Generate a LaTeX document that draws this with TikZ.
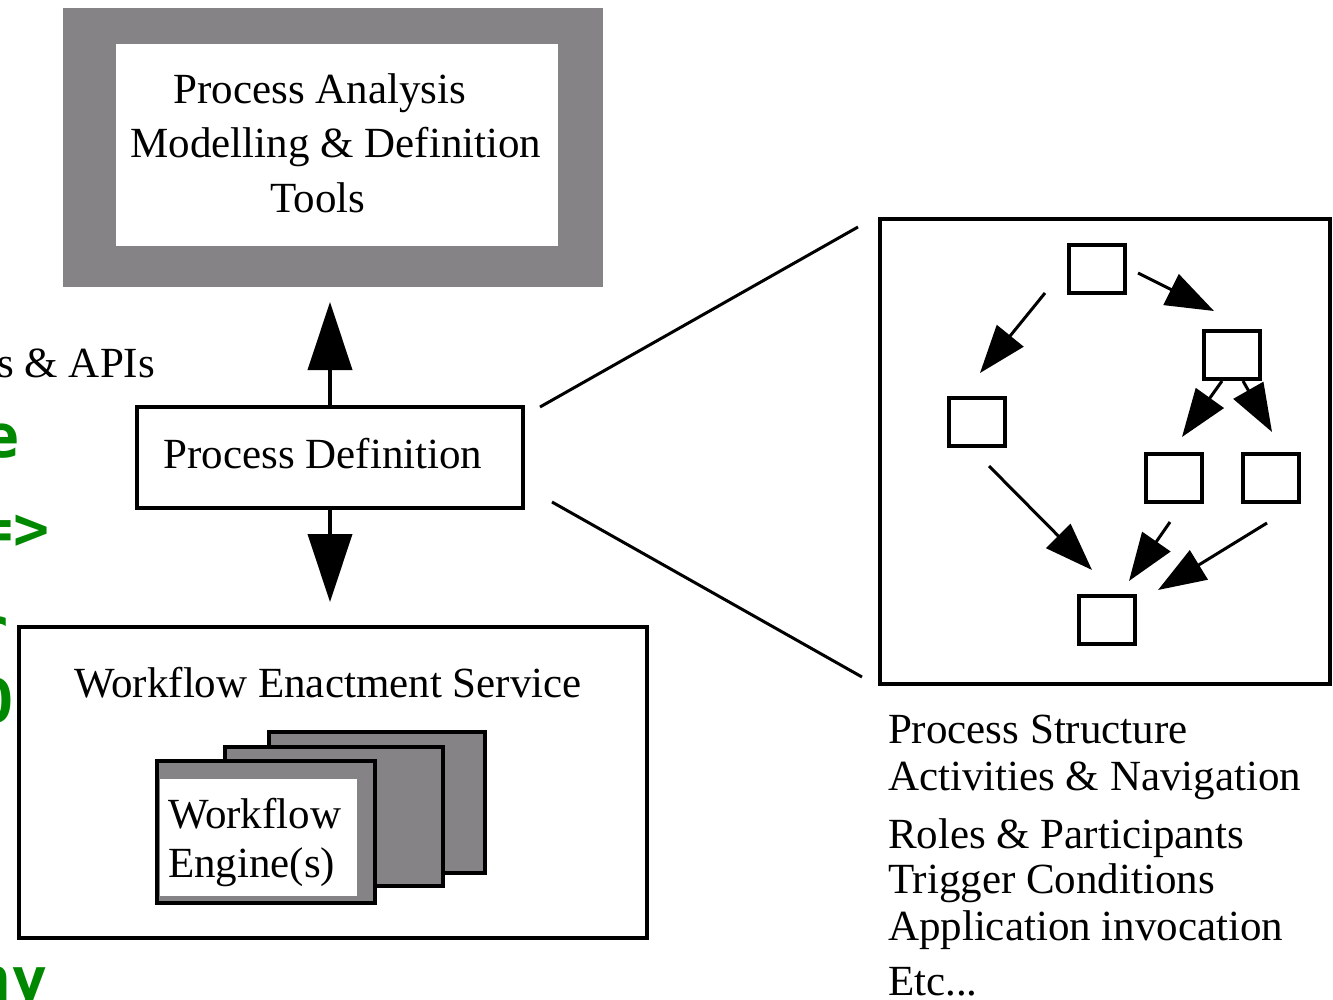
\documentclass[tikz,border=0pt]{standalone}
\usepackage{fontspec}
\setmainfont{Liberation Serif}
\newfontfamily\greenmono{DejaVu Sans Mono Bold}
\usetikzlibrary{arrows.meta}
\definecolor{boxgray}{RGB}{134,131,134}
\definecolor{termgreen}{RGB}{0,136,0}
\begin{document}
\begin{tikzpicture}[x=1pt,y=-1pt,
  every node/.style={outer sep=0pt},
  txt/.style={font=\fontsize{43}{50}\selectfont, inner sep=0pt, anchor=base},
  lbl/.style={txt, anchor=base west},
  frame/.style={draw=black, line width=4pt, fill=white, inner sep=0pt},
  mini/.style={draw=black, line width=4pt, minimum width=56pt, minimum height=48pt, inner sep=0pt},
  sheet/.style={draw=black, line width=4pt, fill=boxgray, inner sep=0pt},
  bigarrow/.style={line width=4pt, -{Triangle[length=68pt,width=44pt]}},
  flow/.style={line width=3pt, -{Triangle[length=48pt,width=34pt]}},
  zoomline/.style={line width=3pt},
  frag/.style={font=\greenmono\fontsize{60}{70}\selectfont, text=termgreen, inner sep=0pt, anchor=base east},
  cut/.style={txt, anchor=base east}
]
\useasboundingbox (0,0) rectangle (1333,1000);

% cut-off fragments at the left edge
\begin{scope}
\clip (0,0) rectangle (1333,1000);
\node[cut] (apis) at (155,377) {s \& APIs};
\node[frag] (g1) at (20,457) {e};
\node[frag] (g2) at (50,549) {=>};
\node[frag] (g3) at (9,650) {r};
\node[frag] (g4) at (14,722) {O};
\node[frag] (g5) at (48,1000) {ny};
\end{scope}

% Process analysis tools
\node[fill=boxgray, minimum width=540pt, minimum height=279pt, inner sep=0pt] (pam) at (333,147.5) {};
\node[fill=white, minimum width=442pt, minimum height=202pt, inner sep=0pt] (pamin) at (337,145) {};
\node[txt] (pa1) at (320,104) {Process Analysis};
\node[txt] (pa2) at (336,158) {Modelling \& Definition};
\node[txt] (pa3) at (318,213) {Tools};

% Process definition
\node[frame, minimum width=386pt, minimum height=101pt] (pd) at (330,457.5) {};
\node[txt] (pdt) at (323,468) {Process Definition};

% Workflow enactment service
\node[frame, minimum width=628pt, minimum height=311pt] (wes) at (333,782.5) {};
\node[txt] (west) at (328,697) {Workflow Enactment Service};
\node[sheet, minimum width=216pt, minimum height=141pt] (eng3) at (377,802.5) {};
\node[sheet, minimum width=218pt, minimum height=139pt] (eng2) at (334,816.5) {};
\node[sheet, minimum width=218pt, minimum height=142pt] (eng1) at (266,832) {};
\node[fill=white, minimum width=197pt, minimum height=117pt, inner sep=0pt] (eng1in) at (258.5,837.5) {};
\node[lbl] (en1) at (168,828) {Workflow};
\node[lbl] (en2) at (168,877) {Engine(s)};

% arrows between the boxes
\draw[bigarrow, shorten >=15pt] (pd.north) -- (pd.north |- pam.south);
\draw[bigarrow, shorten >=25pt] (pd.south) -- (pd.south |- wes.north);

% zoom-out frame
\node[frame, minimum width=450pt, minimum height=465pt] (ps) at (1105,451.5) {};
\coordinate (z1a) at (540,407);
\coordinate (z1b) at (858,227);
\coordinate (z2a) at (552,502);
\coordinate (z2b) at (862,677);
\draw[zoomline] (z1a) -- (z1b);
\draw[zoomline] (z2a) -- (z2b);

% small activity boxes
\node[mini] (t)  at (1097,269) {};
\node[mini] (ru) at (1232,355) {};
\node[mini] (l)  at (976.5,422) {};
\node[mini] (ml) at (1173.5,477.5) {};
\node[mini] (rl) at (1270.5,477.5) {};
\node[mini] (b)  at (1106.5,619.5) {};

\coordinate (f1a) at (1138,273);  \coordinate (f1b) at (1214,311);
\coordinate (f2a) at (1045,293);  \coordinate (f2b) at (980,373);
\coordinate (f3a) at (1222,381);  \coordinate (f3b) at (1182,437);
\coordinate (f4a) at (1243,381);  \coordinate (f4b) at (1272,432);
\coordinate (f5a) at (989,466);   \coordinate (f5b) at (1092,570);
\coordinate (f6a) at (1170,522);  \coordinate (f6b) at (1129,581);
\coordinate (f7a) at (1267,523);  \coordinate (f7b) at (1158,590);
\draw[flow] (f1a) -- (f1b);
\draw[flow] (f2a) -- (f2b);
\draw[flow] (f3a) -- (f3b);
\draw[flow] (f4a) -- (f4b);
\draw[flow] (f5a) -- (f5b);
\draw[flow] (f6a) -- (f6b);
\draw[flow] (f7a) -- (f7b);

% description list
\node[lbl] (d1) at (888,743) {Process Structure};
\node[lbl] (d2) at (888,790) {Activities \& Navigation};
\node[lbl] (d3) at (888,848) {Roles \& Participants};
\node[lbl] (d4) at (888,893) {Trigger Conditions};
\node[lbl] (d5) at (888,940) {Application invocation};
\node[lbl] (d6) at (888,995) {Etc...};
\end{tikzpicture}
\end{document}
